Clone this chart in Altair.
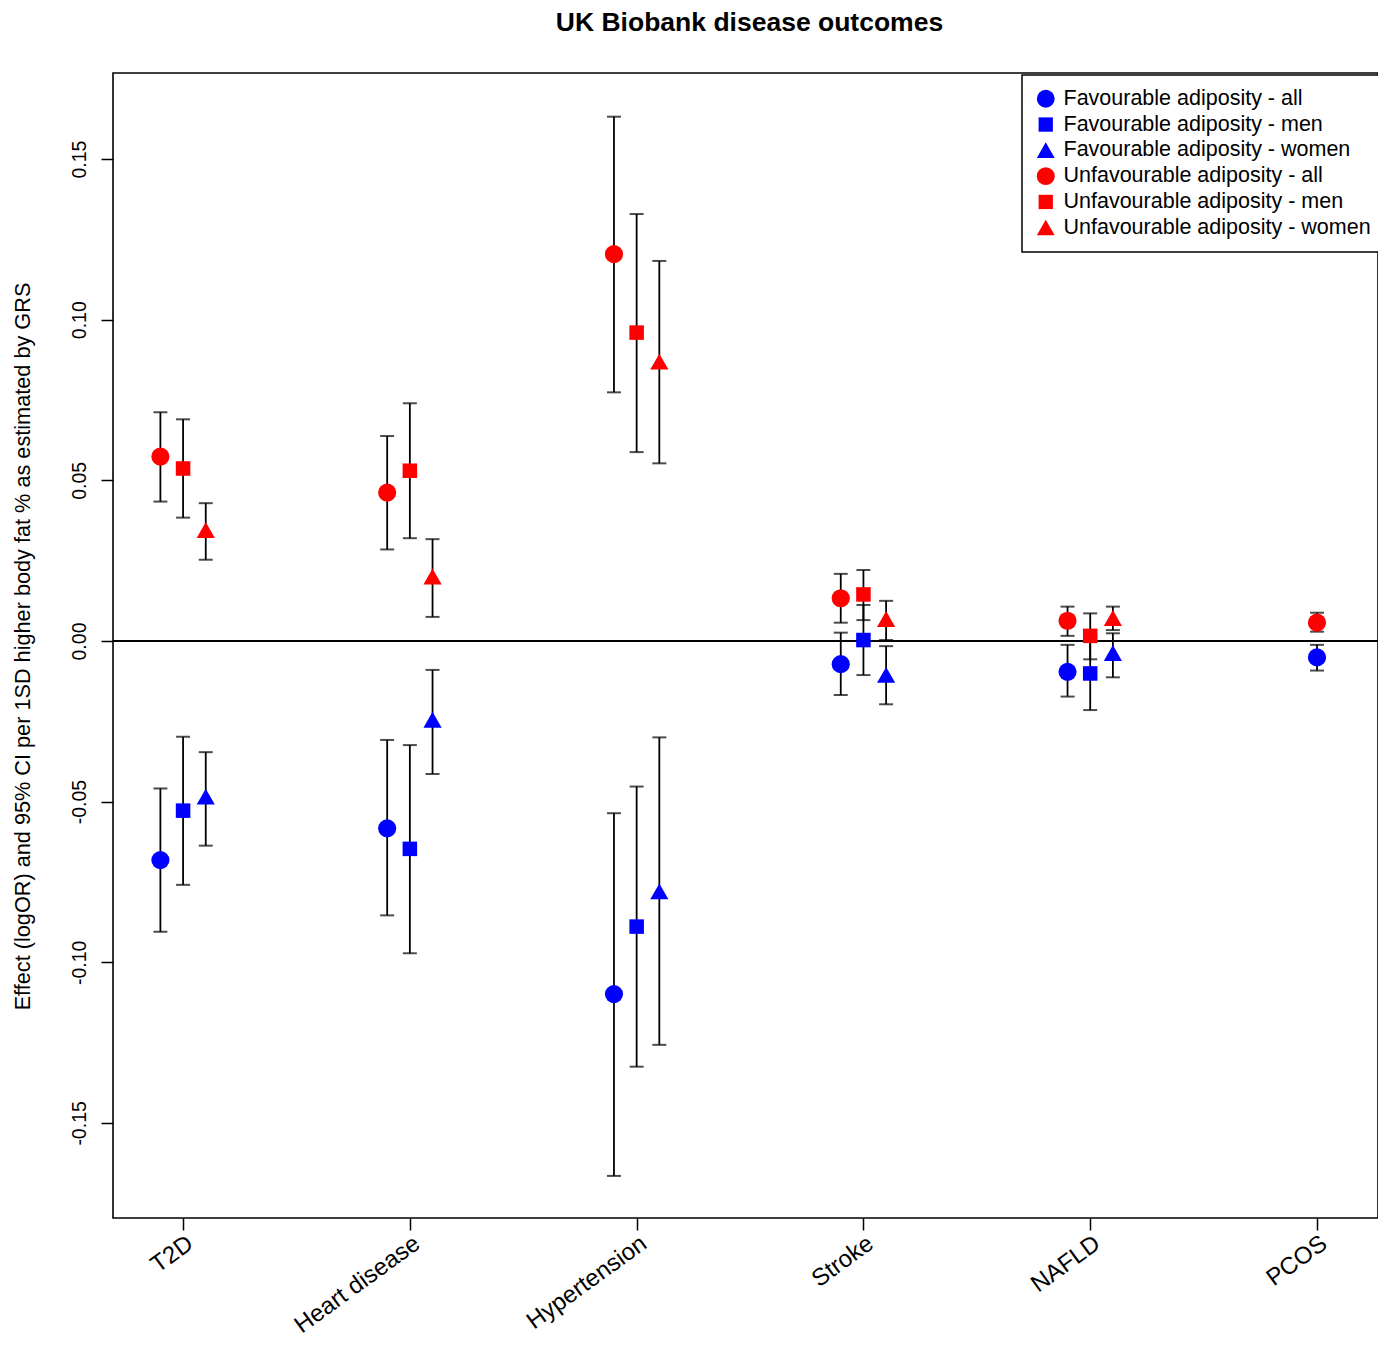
import json
import altair as alt
import pandas as pd

# ---------------- data ----------------
outcomes = ["T2D", "Heart disease", "Hypertension", "Stroke", "NAFLD", "PCOS"]

series_names = [
    "Favourable adiposity - all",
    "Favourable adiposity - men",
    "Favourable adiposity - women",
    "Unfavourable adiposity - all",
    "Unfavourable adiposity - men",
    "Unfavourable adiposity - women",
]
series_group = ["all", "men", "women", "all", "men", "women"]

fav_all_est = [-0.0682, -0.0583, -0.1099, -0.0072, -0.0096, -0.0051]
fav_all_lo = [-0.0905, -0.0854, -0.1665, -0.0168, -0.0173, -0.0092]
fav_all_hi = [-0.0459, -0.0308, -0.0536, 0.0026, -0.0012, -0.0012]

fav_men_est = [-0.0528, -0.0647, -0.0889, 0.0003, -0.0101, None]
fav_men_lo = [-0.0759, -0.0972, -0.1325, -0.0106, -0.0215, None]
fav_men_hi = [-0.0298, -0.0324, -0.0453, 0.0112, 0.0013, None]

fav_women_est = [-0.0485, -0.0246, -0.0780, -0.0106, -0.0038, None]
fav_women_lo = [-0.0637, -0.0414, -0.1257, -0.0197, -0.0113, None]
fav_women_hi = [-0.0346, -0.0090, -0.0300, -0.0016, 0.0024, None]

unfav_all_est = [0.0574, 0.0462, 0.1204, 0.0133, 0.0063, 0.0057]
unfav_all_lo = [0.0434, 0.0285, 0.0774, 0.0057, 0.0016, 0.0029]
unfav_all_hi = [0.0712, 0.0638, 0.1632, 0.0209, 0.0107, 0.0088]

unfav_men_est = [0.0537, 0.0530, 0.0960, 0.0145, 0.0016, None]
unfav_men_lo = [0.0384, 0.0320, 0.0588, 0.0065, -0.0057, None]
unfav_men_hi = [0.0690, 0.0740, 0.1329, 0.0221, 0.0086, None]

unfav_women_est = [0.0345, 0.0200, 0.0869, 0.0068, 0.0071, None]
unfav_women_lo = [0.0253, 0.0075, 0.0553, 0.0003, 0.0034, None]
unfav_women_hi = [0.0429, 0.0317, 0.1183, 0.0125, 0.0107, None]

y_ticks = [-0.15, -0.10, -0.05, 0.00, 0.05, 0.10, 0.15]

# ---------------- build table ----------------
est_lists = [fav_all_est, fav_men_est, fav_women_est, unfav_all_est, unfav_men_est, unfav_women_est]
lo_lists = [fav_all_lo, fav_men_lo, fav_women_lo, unfav_all_lo, unfav_men_lo, unfav_women_lo]
hi_lists = [fav_all_hi, fav_men_hi, fav_women_hi, unfav_all_hi, unfav_men_hi, unfav_women_hi]
group_order = ["all", "men", "women"]

rows = []
for i, oc in enumerate(outcomes):
    present = [g for g in group_order
               if any(est_lists[s][i] is not None and series_group[s] == g for s in range(6))]
    n = len(present)
    for s in range(6):
        e = est_lists[s][i]
        if e is None:
            continue
        rank = present.index(series_group[s])
        dodge = (rank - (n - 1) / 2) * 0.1
        rows.append(dict(outcome=oc, series=series_names[s], xpos=i + 1 + dodge,
                         est=e, lo=lo_lists[s][i], hi=hi_lists[s][i]))
df = pd.DataFrame(rows)

FONT = "Liberation Sans"

x_scale = alt.Scale(domain=[0.691, 6.269], nice=False, zero=False)
y_scale = alt.Scale(domain=[-0.1796, 0.1768], nice=False, zero=False)

label_expr = json.dumps(outcomes) + "[round(datum.value) - 1]"

x_axis = alt.Axis(values=[1, 2, 3, 4, 5, 6], labelExpr=label_expr, title=None, grid=False,
                  domain=False, tickSize=12, tickColor="black", tickWidth=1.5,
                  labelAngle=324, labelAlign="right", labelBaseline="top",
                  labelFontSize=24, labelFont=FONT, labelColor="black", labelPadding=1,
                  labelOverlap=False, labelFlush=False, labelBound=False)

y_title = "Effect (logOR) and 95% CI per 1SD higher body fat % as estimated by GRS"
y_axis = alt.Axis(values=y_ticks, labelExpr="replace(format(datum.value, '.2f'), '\u2212', '-')",
                  grid=False, domain=False, tickSize=12, tickColor="black", tickWidth=1.5,
                  labelAngle=270, labelAlign="center", labelBaseline="bottom",
                  labelFontSize=19.5, labelFont=FONT, labelColor="black", labelPadding=12,
                  labelOverlap=False, labelFlush=False,
                  title=y_title, titleFont=FONT, titleFontSize=21.7, titleFontWeight="normal",
                  titleColor="black", titleAngle=270, titleX=-91, titleY=573,
                  titleBaseline="middle", titleAlign="center")

base = alt.Chart(df)

zero_line = alt.Chart(pd.DataFrame({"y": [0.0]})).mark_rule(
    color="black", strokeWidth=2
).encode(y=alt.Y("y:Q", scale=y_scale, axis=y_axis))

bars = base.mark_rule(color="black", strokeWidth=1.8).encode(
    x=alt.X("xpos:Q", scale=x_scale, axis=x_axis),
    y=alt.Y("lo:Q", scale=y_scale, axis=y_axis),
    y2="hi:Q",
)

caps = base.transform_fold(["lo", "hi"], as_=["end", "val"]).mark_tick(
    color="black", orient="horizontal", size=14, thickness=2
).encode(
    x=alt.X("xpos:Q", scale=x_scale, axis=x_axis),
    y=alt.Y("val:Q", scale=y_scale, axis=y_axis),
)

colors = ["#0000FF", "#0000FF", "#0000FF", "#FF0000", "#FF0000", "#FF0000"]
SQUARE = "M-0.8,-0.8H0.8V0.8H-0.8Z"
TRIANGLE = "M0,-0.9L1,0.85L-1,0.85Z"
shapes = ["circle", SQUARE, TRIANGLE, "circle", SQUARE, TRIANGLE]

legend = alt.Legend(title=None, orient="none", legendX=909, legendY=2,
                    strokeColor="black", fillColor="white", padding=13,
                    labelFont=FONT, labelFontSize=21.5, labelColor="black",
                    symbolSize=320, symbolStrokeWidth=0, rowPadding=2.8, labelOffset=7,
                    labelLimit=400)

points = base.mark_point(filled=True, opacity=1, size=330).encode(
    x=alt.X("xpos:Q", scale=x_scale, axis=x_axis),
    y=alt.Y("est:Q", scale=y_scale, axis=y_axis),
    color=alt.Color("series:N", scale=alt.Scale(domain=series_names, range=colors), legend=legend),
    shape=alt.Shape("series:N", scale=alt.Scale(domain=series_names, range=shapes), legend=legend),
)

chart = alt.layer(zero_line, bars, caps, points).properties(
    width=1265,
    height=1145,
    background="white",
    title=alt.TitleParams("UK Biobank disease outcomes", font=FONT, fontSize=26.5,
                          fontWeight="bold", color="black", anchor="middle",
                          frame="group", offset=37, dx=4),
    autosize=alt.AutoSizeParams(type="none"),
    padding={"left": 105, "top": 65, "right": 0, "bottom": 121},
).configure_view(stroke="black", strokeWidth=1.6).configure_legend(
    strokeWidth=1.5, cornerRadius=0
)

chart.save("out.html", embed_options={"renderer": "svg", "actions": False})
